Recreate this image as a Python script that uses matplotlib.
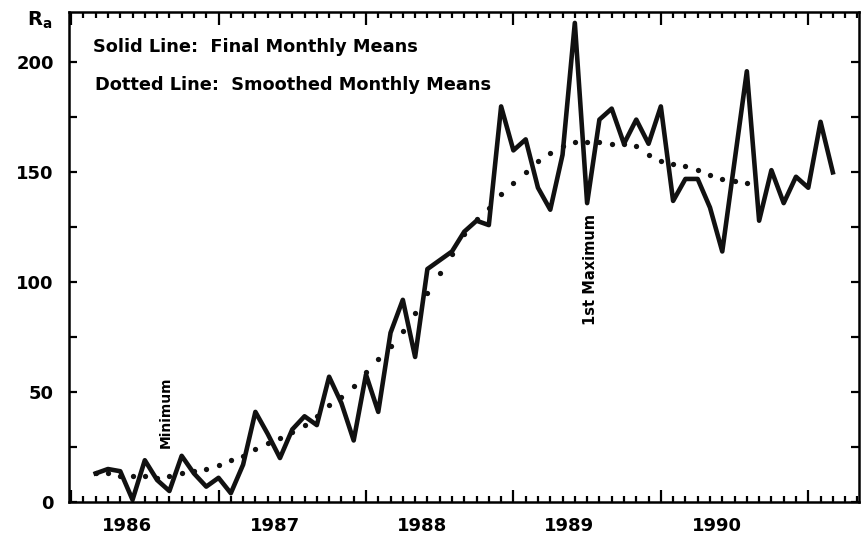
import matplotlib.pyplot as plt
from matplotlib.ticker import MultipleLocator, FixedLocator

plt.rcParams['font.family'] = 'DejaVu Sans'
plt.rcParams['font.weight'] = 'bold'

# monthly sunspot numbers Ra, first point = March 1986
start_year = 1986
start_month = 3
final_means = [13, 15, 14, 1, 19, 10, 5, 21, 13, 7, 11, 4, 17, 41, 31, 20,
               33, 39, 35, 57, 45, 28, 58, 41, 77, 92, 66, 106, 110, 114, 123,
               128, 126, 180, 160, 165, 143, 133, 158, 218, 136, 174, 179, 163,
               174, 163, 180, 137, 147, 147, 134, 114, 155, 196, 128, 151, 136,
               148, 143, 173, 150]
smoothed_means = [13, 13, 12, 12, 12, 11, 12, 13, 14, 15, 17, 19, 21, 24, 27,
                  29, 32, 35, 39, 44, 48, 53, 59, 65, 71, 78, 86, 95, 104, 113,
                  122, 129, 134, 140, 145, 150, 155, 159, 162, 164, 164, 164,
                  163, 163, 162, 158, 155, 154, 153, 151, 149, 147, 146, 145]
year_labels = ['1986', '1987', '1988', '1989', '1990']
year_ticks = [1986, 1987, 1988, 1989, 1990, 1991]
y_ticks = [0, 50, 100, 150, 200]

t = [start_year + (start_month - 1 + i) / 12 for i in range(len(final_means))]
t_sm = t[:len(smoothed_means)]

fig = plt.figure(figsize=(8.63, 5.35), dpi=100)
ax = fig.add_axes([0.080, 0.0617, 0.915, 0.916])

ax.plot(t, final_means, '-', color='#111111', lw=3.3, solid_joinstyle='round')
ax.plot(t_sm, smoothed_means, linestyle='none', marker='o', ms=3.8,
        color='#111111', mew=0)

ax.set_xlim(1985.986, 1991.342)
ax.set_ylim(0, 223)

for s in ax.spines.values():
    s.set_linewidth(1.8)

ax.xaxis.set_major_locator(FixedLocator(year_ticks))
ax.xaxis.set_minor_locator(MultipleLocator(1 / 12))
ax.tick_params(axis='x', which='both', direction='in', top=True, bottom=True,
               labelbottom=False, width=1.6)
ax.tick_params(axis='x', which='major', length=9)
ax.tick_params(axis='x', which='minor', length=4.5)

ax.set_yticks(y_ticks)
ax.yaxis.set_minor_locator(MultipleLocator(25))
ax.tick_params(axis='y', which='both', direction='in', left=True, right=True,
               length=6, width=1.6)
ax.tick_params(axis='y', which='major', labelsize=13, pad=11)

# year labels sit a bit before the middle of each year
sec = ax.secondary_xaxis('bottom')
sec.set_xticks([int(y) + 0.38 for y in year_labels], year_labels)
sec.tick_params(length=0, pad=11, labelsize=13)
sec.spines['bottom'].set_visible(False)

fig.text(40 / 863, 1 - 20 / 535, r'$\mathbf{R}_{\mathbf{a}}$', fontsize=14,
         ha='center', va='center')
fig.text(93 / 863, 1 - 47 / 535, 'Solid Line:  Final Monthly Means',
         fontsize=12.8, ha='left', va='center')
fig.text(95 / 863, 1 - 85 / 535, 'Dotted Line:  Smoothed Monthly Means',
         fontsize=12.8, ha='left', va='center')

ax.text(1986.644, 41, 'Minimum', rotation=90, ha='center', va='center',
        fontsize=10)
ax.text(1989.52, 106, '1st Maximum', rotation=90, ha='center', va='center',
        fontsize=10.5)

fig.savefig('out.png', dpi=100)
